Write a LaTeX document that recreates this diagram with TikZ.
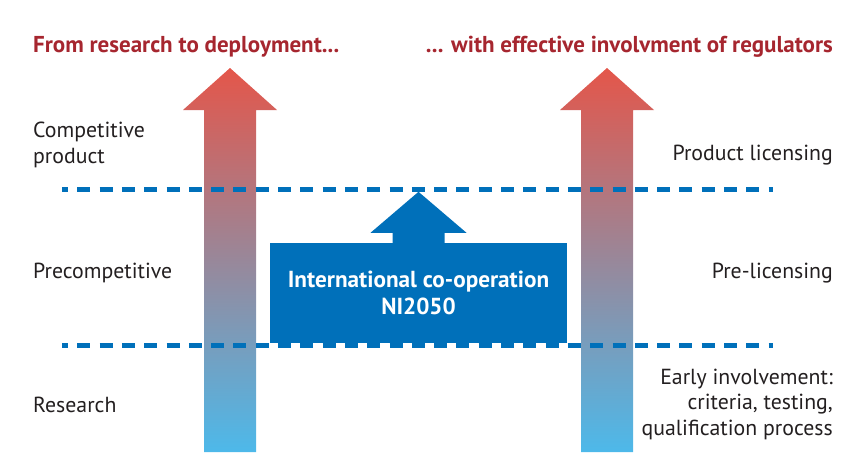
\documentclass[tikz,border=0pt]{standalone}
\usepackage{fontspec}
\setmainfont{PT Sans}
\definecolor{niblue}{HTML}{0070BA}
\definecolor{nired}{HTML}{A6262F}
\definecolor{arrowtop}{HTML}{E4564A}
\definecolor{arrowbottom}{HTML}{4DB9EA}
\definecolor{textgray}{HTML}{231F20}
\begin{document}
\begin{tikzpicture}[x=1pt, y=-1pt]
    \tikzstyle{title} = [inner sep=0, font=\fontsize{23}{26}\selectfont\bfseries, text=nired]
    \tikzstyle{label} = [inner sep=0, font=\fontsize{21.8}{25.5}\selectfont, text=textgray]
    \tikzstyle{bigarrow} = [top color=arrowtop, bottom color=arrowbottom]
    \tikzstyle{level} = [niblue, line width=5pt, dash pattern=on 13pt off 9.3pt, dash phase=7pt]
    \tikzstyle{coop} = [rectangle, fill=niblue, minimum width=297pt, minimum height=100pt, inner sep=0, align=center, text=white, font=\fontsize{23.2}{26.5}\selectfont\bfseries]
    \useasboundingbox (0,0) rectangle (853,472);

    % the two big arrows
    \shade[bigarrow] (204,452) -- (204,110) -- (183,110) -- (230,68) -- (277,110) -- (256,110) -- (256,452) -- cycle;
    \shade[bigarrow] (581,452) -- (581,110) -- (560,110) -- (607,68) -- (654,110) -- (633,110) -- (633,452) -- cycle;

    \node[title, anchor=base west](from) at (33,52){From research to deployment...};
    \node[title, anchor=base east](with) at (833,52){... with effective involvment of regulators};

    \node[label, anchor=base west, align=left](compet) at (33,163){Competitive\\product};
    \node[label, anchor=base west](precomp) at (33,278){Precompetitive};
    \node[label, anchor=base west](research) at (33,412){Research};
    \node[label, anchor=base east](licensing) at (833,160){Product licensing};
    \node[label, anchor=base east](prelic) at (833,278){Pre-licensing};
    \node[label, anchor=base east, align=right](early) at (833,435){Early involvement:\\criteria, testing,\\qualification process};

    \node[coop](coop) at (418.5,293){International co-operation\\NI2050};
    \fill[niblue] ([xshift=-26pt]coop.north) -- ([xshift=-26pt, yshift=10pt]coop.north) -- ([xshift=-48pt, yshift=10pt]coop.north)
        -- ([yshift=51pt]coop.north) -- ([xshift=48pt, yshift=10pt]coop.north) -- ([xshift=26pt, yshift=10pt]coop.north)
        -- ([xshift=26pt]coop.north) -- cycle;

    % dashed level lines
    \coordinate (upleft) at (62,189);
    \coordinate (upright) at (773,189);
    \coordinate (lowleft) at (62,345);
    \coordinate (lowright) at (773,345);
    \draw[level](upleft)--(upright);
    \draw[level](lowleft)--(lowright);
\end{tikzpicture}
\end{document}
